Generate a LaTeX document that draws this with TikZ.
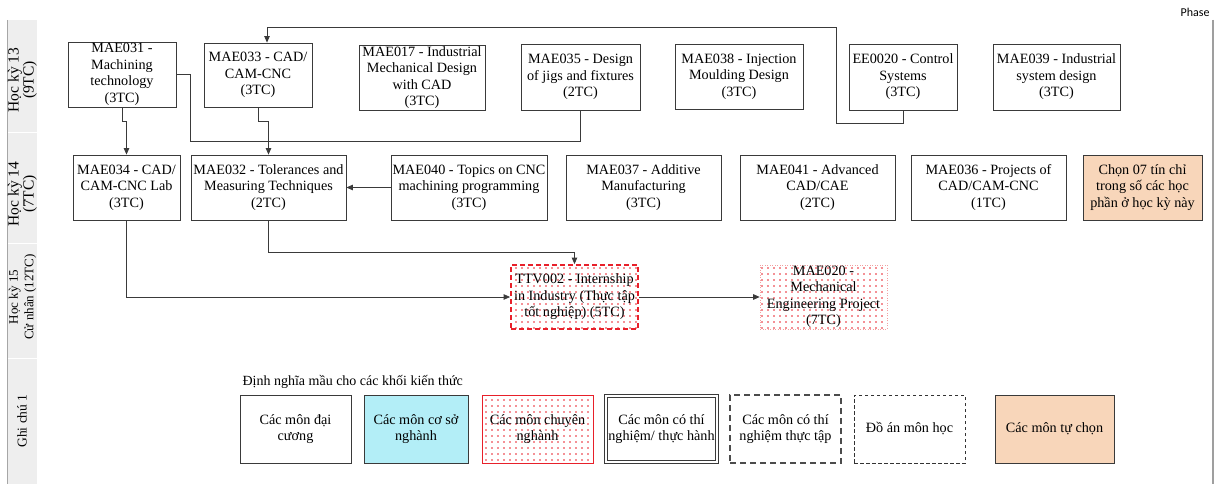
\documentclass[tikz,border=0pt]{standalone}
\usepackage{fontspec}
\setmainfont{Liberation Serif}
\newfontfamily\phasefont{Carlito}
\usetikzlibrary{arrows.meta,patterns.meta,calc}
\definecolor{linegray}{HTML}{3A3A3A}
\definecolor{peach}{HTML}{F8D6BA}
\definecolor{basecyan}{HTML}{B3EEF7}
\definecolor{dotred}{HTML}{E8202A}
\definecolor{pinkline}{HTML}{F2A0A0}
\definecolor{stripgray}{HTML}{EEEEEE}
\tikzset{
  x=1pt, y=-1pt,
  course/.style={draw=linegray, line width=0.8pt, align=center, inner sep=0pt,
    font=\fontsize{14.2}{16.5}\selectfont},
  elective/.style={course, fill=peach},
  basic/.style={course, fill=basecyan},
  reddots/.style={pattern={Dots[distance=6pt, radius=0.85pt]}, pattern color=dotred},
  internship/.style={course, draw=dotred, line width=1.8pt, dash pattern=on 5pt off 3pt, reddots},
  project/.style={course, draw=pinkline, line width=0.6pt, dash pattern=on 1pt off 1.5pt, reddots},
  major/.style={course, draw=dotred, line width=1pt, reddots},
  labbox/.style={course, double=white, double distance=2pt, line width=1pt},
  practbox/.style={course, draw=black!70, line width=1.4pt, dash pattern=on 6pt off 4pt},
  projbox/.style={course, draw=black!80, line width=0.9pt, dash pattern=on 3.5pt off 2.5pt},
  link/.style={draw=linegray, line width=0.8pt},
  arr/.style={link, -{Triangle[length=6.5pt,width=5.5pt]}},
  lanelabel/.style={rotate=90, align=center, font=\fontsize{15.5}{15}\selectfont},
  lanelabelsmall/.style={rotate=90, align=center, font=\fontsize{13}{15.5}\selectfont},
}
\begin{document}
\begin{tikzpicture}
\useasboundingbox (0,0) rectangle (1216,484);

% lane header strip
\fill[stripgray] (8,20) rectangle (37,484);
\draw[white, line width=1pt] (8,133) -- (37,133) (8,243) -- (37,243) (8,358) -- (37,358);
\draw[gray!70, line width=1pt] (7,20) -- (7,484);
\draw[gray!75, line width=1.5pt] (1213,20) -- (1213,484);
\node[font=\phasefont\fontsize{12}{14}\selectfont, anchor=east] (phase) at (1213,12) {Phase};

\node[lanelabel] (lane13) at (22.5,80) {Học kỳ 13\\(9TC)};
\node[lanelabel] (lane14) at (22.5,194) {Học kỳ 14\\(7TC)};
\node[lanelabelsmall] (lane15) at (22.5,297) {Học kỳ 15\\Cử nhân (12TC)};
\node[lanelabelsmall, font=\fontsize{13.5}{15.5}\selectfont] (note) at (22,421) {Ghi chú 1};

% semester 13
\node[course, minimum width=108pt, minimum height=65pt] (m031) at (122,74.5) {MAE031 -\\Machining\\technology\\(3TC)};
\node[course, minimum width=108pt, minimum height=64pt] (m033) at (258,75) {MAE033 - CAD/\\CAM-CNC\\(3TC)};
\node[course, minimum width=126pt, minimum height=65pt] (m017) at (422,77.5) {MAE017 - Industrial\\Mechanical Design\\with CAD\\(3TC)};
\node[course, minimum width=119pt, minimum height=66pt] (m035) at (580.5,77) {MAE035 - Design\\of jigs and fixtures\\(2TC)};
\node[course, minimum width=128pt, minimum height=65pt] (m038) at (739,76.5) {MAE038 - Injection\\Moulding Design\\(3TC)};
\node[course, minimum width=108pt, minimum height=66pt] (e020) at (903,77) {EE0020 - Control\\Systems\\(3TC)};
\node[course, minimum width=127pt, minimum height=66pt] (m039) at (1056.5,77) {MAE039 - Industrial\\system design\\(3TC)};

% semester 14
\node[course, minimum width=107pt, minimum height=65pt] (m034) at (126.5,187.5) {MAE034 - CAD/\\CAM-CNC Lab\\(3TC)};
\node[course, minimum width=155pt, minimum height=65pt] (m032) at (268.5,187.5) {MAE032 - Tolerances and\\Measuring Techniques\\(2TC)};
\node[course, minimum width=156pt, minimum height=65pt] (m040) at (469,187.5) {MAE040 - Topics on CNC\\machining programming\\(3TC)};
\node[course, minimum width=155pt, minimum height=65pt] (m037) at (643.5,187.5) {MAE037 - Additive\\Manufacturing\\(3TC)};
\node[course, minimum width=155pt, minimum height=65pt] (m041) at (817.5,187.5) {MAE041 - Advanced\\CAD/CAE\\(2TC)};
\node[course, minimum width=155pt, minimum height=65pt] (m036) at (988.5,187.5) {MAE036 - Projects of\\CAD/CAM-CNC\\(1TC)};
\node[elective, minimum width=119pt, minimum height=65pt] (chon) at (1142.5,187.5) {Chọn 07 tín chỉ\\trong số các học\\phần ở học kỳ này};

% semester 15
\node[internship, minimum width=127pt, minimum height=64pt] (ttv) at (574.5,297) {TTV002 - Internship\\in Industry (Thực tập\\tốt nghiệp) (5TC)};
\node[project, minimum width=127pt, minimum height=64pt] (m020) at (823.5,297) {MAE020 -\\Mechanical\\Engineering Project\\(7TC)};

% legend
\node[anchor=west, font=\fontsize{14}{16}\selectfont] (legtitle) at (239,382) {Định nghĩa mầu cho các khối kiến thức};
\node[course, minimum width=111pt, minimum height=68pt] (l1) at (295.5,429) {Các môn đại\\cương};
\node[basic, minimum width=104pt, minimum height=68pt] (l2) at (416,429) {Các môn cơ sở\\nghành};
\node[major, minimum width=111pt, minimum height=68pt] (l3) at (537.5,429) {Các môn chuyên\\nghành};
\node[labbox, minimum width=111pt, minimum height=66pt] (l4) at (661.5,429) {Các môn có thí\\nghiệm/ thực hành};
\node[practbox, minimum width=111pt, minimum height=68pt] (l5) at (785.5,429) {Các môn có thí\\nghiệm thực tập};
\node[projbox, minimum width=111pt, minimum height=68pt] (l6) at (909.5,429) {Đồ án môn học};
\node[elective, minimum width=119pt, minimum height=68pt] (l7) at (1054.5,429) {Các môn tự chọn};

% prerequisites
\draw[arr] (m031.south) -- ++(0,14) -| (m034.north);
\draw[arr] (m033.south) -- ++(0,14) -| (m032.north);
\draw[link] (m031.east) -- ++(14,0) |- ([yshift=-31pt]m035.south) -- (m035.south);
\draw[arr] (e020.south) -- ++(0,13) -- ++(-67,0) |- ([xshift=9pt,yshift=15pt]m033.north) -- ([xshift=9pt]m033.north);
\draw[arr] (m040.west) -- (m032.east);
\draw[arr] (m034.south) |- (ttv.west);
\draw[arr] (m032.south) -- ++(0,32) -| (ttv.north);
\draw[arr] (ttv.east) -- (m020.west);
\end{tikzpicture}
\end{document}
